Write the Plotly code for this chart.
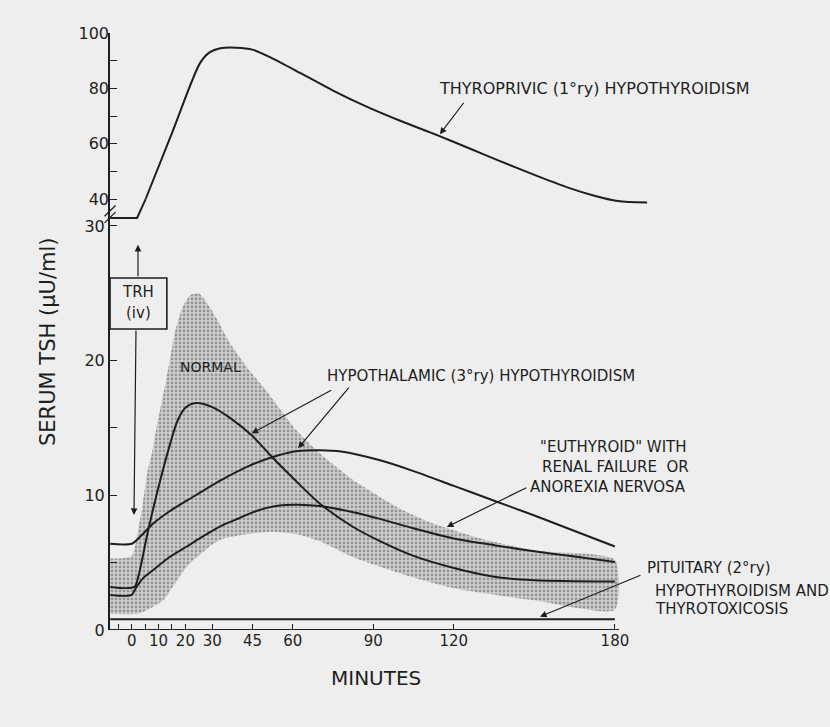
import plotly.graph_objects as go

# ---------------- data (minutes after TRH, serum TSH in µU/ml) ----------------
# Thyroprivic (primary) hypothyroidism: baseline just above 30 (lower scale),
# then the response drawn on the upper (broken) scale 40-100
thyro_base_min = [-8, 2, 5.2]
thyro_base_tsh = [30.6, 30.6, 32.0]
thyro_min = [5.2, 15, 25.5, 29, 33, 39, 45, 52, 62.7, 75, 87.5, 100, 114, 125, 137, 150, 162, 172, 181, 192]
thyro_tsh = [40, 63.8, 89.2, 93.0, 94.5, 94.7, 94.0, 91.0, 85.6, 79.2, 73.4, 68.3, 63.0, 58.6, 53.8, 48.7, 44.3, 41.3, 39.3, 38.7]

# Curve with early, high peak (inside normal range)
peak_min = [-8, 1, 2.5, 5.6, 8, 11, 14, 17, 20, 24, 30, 37, 45, 52, 60, 70, 82.5, 92.5, 105, 120, 135, 150, 180]
peak_tsh = [3.2, 3.2, 4.0, 6.9, 9.0, 11.4, 13.6, 15.5, 16.5, 16.85, 16.55, 15.7, 14.4, 12.9, 11.3, 9.4, 7.65, 6.6, 5.5, 4.6, 3.95, 3.7, 3.6]

# Hypothalamic (tertiary): high baseline, delayed, prolonged response
hypoth_min = [-8, 0, 3, 8, 14, 20.5, 33, 45, 55, 62, 70, 78, 92.5, 105, 120, 135, 150, 165, 180]
hypoth_tsh = [6.4, 6.4, 6.9, 7.9, 8.8, 9.6, 11.1, 12.3, 13.0, 13.3, 13.35, 13.25, 12.6, 11.8, 10.7, 9.6, 8.5, 7.35, 6.2]

# "Euthyroid" with renal failure or anorexia nervosa
euth_min = [-8, 0, 1.2, 4, 8, 14, 20.5, 27, 33, 40, 45.3, 50, 55, 62, 70, 82.5, 92.5, 105, 120, 135, 148, 165, 180]
euth_tsh = [2.6, 2.6, 3.0, 3.8, 4.45, 5.4, 6.2, 7.0, 7.7, 8.3, 8.75, 9.05, 9.25, 9.3, 9.2, 8.75, 8.25, 7.55, 6.8, 6.3, 5.9, 5.45, 5.05]

# Pituitary (secondary) hypothyroidism and thyrotoxicosis: flat
pit_min = [-8, 180]
pit_tsh = [0.8, 0.8]

# Normal range (shaded band)
normal_upper_min = [-8, 0, 2, 4, 6, 7.4, 9.3, 11.5, 14, 16, 19, 22, 25, 28, 32, 36, 43, 50, 56, 61, 68, 75, 82, 90, 100, 111, 130, 150, 180]
normal_upper_tsh = [5.3, 5.5, 7.0, 9.2, 11.9, 13.0, 15.1, 17.2, 19.8, 22.0, 24.0, 24.9, 25.0, 24.3, 23.0, 21.5, 19.5, 17.8, 16.2, 14.9, 13.5, 12.3, 11.2, 10.2, 9.0, 8.0, 6.8, 5.9, 5.2]
normal_lower_min = [-8, 2, 6, 11.7, 20.5, 33, 51.5, 62, 70, 82.5, 92.5, 105, 120, 150, 180]
normal_lower_tsh = [1.2, 1.2, 1.5, 2.2, 4.7, 6.7, 7.3, 7.1, 6.6, 5.4, 4.7, 3.9, 3.1, 2.2, 1.5]

x_tickvals = [-5, 0, 5, 10, 15, 20, 30, 45, 60, 90, 120, 180]
x_ticktext = ["", "0", "", "10", "", "20", "30", "45", "60", "90", "120", "180"]
y_low_tickvals = [0, 5, 10, 15, 20, 25, 30]
y_low_ticktext = ["0", "", "10", "", "20", "", "30"]
y_up_tickvals = [40, 50, 60, 70, 80, 90, 100]
y_up_ticktext = ["40", "", "60", "", "80", "", "100"]

# ---------------- figure ----------------
BG = "#eeeeee"
INK = "#1e1e1e"
FONT = "DejaVu Sans"

fig = go.Figure()

band_x = normal_upper_min + normal_lower_min[::-1]
band_y = normal_upper_tsh + normal_lower_tsh[::-1]
fig.add_trace(go.Scatter(
    x=band_x, y=band_y, fill="toself", mode="lines",
    line=dict(width=0, color="rgba(0,0,0,0)", shape="spline", smoothing=0.6),
    fillcolor="#cdcdcd",
    fillpattern=dict(shape=".", fgcolor="#5a5a5a", bgcolor="#d0d0d0", size=4, solidity=0.4),
    hoverinfo="skip", showlegend=False, name="Normal"))

line_style = dict(color=INK, width=2, shape="spline", smoothing=0.8)
fig.add_trace(go.Scatter(x=pit_min, y=pit_tsh, mode="lines", line=line_style, showlegend=False, name="Pituitary"))
fig.add_trace(go.Scatter(x=euth_min, y=euth_tsh, mode="lines", line=line_style, showlegend=False, name="Euthyroid"))
fig.add_trace(go.Scatter(x=hypoth_min, y=hypoth_tsh, mode="lines", line=line_style, showlegend=False, name="Hypothalamic"))
fig.add_trace(go.Scatter(x=peak_min, y=peak_tsh, mode="lines", line=line_style, showlegend=False, name="Peak"))
fig.add_trace(go.Scatter(x=thyro_base_min, y=thyro_base_tsh, mode="lines",
                         line=dict(color=INK, width=2), showlegend=False, name="Thyroprivic baseline"))
fig.add_trace(go.Scatter(x=thyro_min, y=thyro_tsh, mode="lines", yaxis="y2",
                         line=line_style, showlegend=False, name="Thyroprivic"))

X0, X1 = -8.08, 196.8
fig.update_layout(
    width=830, height=727,
    margin=dict(l=110, r=170, t=33, b=97),
    paper_bgcolor=BG, plot_bgcolor=BG,
    font=dict(family=FONT, color=INK, size=14),
    showlegend=False,
    xaxis=dict(range=[X0, X1], tickvals=x_tickvals, ticktext=x_ticktext,
               ticks="inside", ticklen=6, tickwidth=1.3, tickcolor=INK,
               showline=False, showgrid=False, zeroline=False,
               tickfont=dict(size=15, family=FONT, color=INK)),
    yaxis=dict(range=[0, 44.33], tickvals=y_low_tickvals, ticktext=y_low_ticktext,
               ticks="inside", ticklen=7, tickwidth=1.3, tickcolor=INK,
               showline=True, linewidth=2, linecolor=INK,
               showgrid=False, zeroline=False,
               tickfont=dict(size=16, family=FONT, color=INK)),
    yaxis2=dict(range=[-115.78, 100], overlaying="y", side="left",
                tickvals=y_up_tickvals, ticktext=y_up_ticktext,
                ticks="inside", ticklen=7, tickwidth=1.3, tickcolor=INK,
                showline=False, showgrid=False, zeroline=False,
                tickfont=dict(size=16, family=FONT, color=INK)),
)

# x axis line (ends just past 180 as in the original)
fig.add_shape(type="line", xref="x", yref="y", x0=X0, x1=181.5, y0=0, y1=0,
              line=dict(color=INK, width=2))
# axis break mark
for dy in (0.0, 0.011):
    fig.add_shape(type="line", xref="paper", yref="paper",
                  x0=-0.010, x1=0.010, y0=0.682 + dy, y1=0.700 + dy,
                  line=dict(color=INK, width=1.3))
# TRH box
fig.add_shape(type="rect", xref="x", yref="y", x0=X0, x1=13.1, y0=22.35, y1=26.14,
              line=dict(color=INK, width=1.6), fillcolor=BG)

ann = []
def label(text, x, y, yref="y", xanchor="left", size=15):
    ann.append(dict(text=text, x=x, y=y, xref="x", yref=yref, xanchor=xanchor,
                    yanchor="middle", showarrow=False,
                    font=dict(size=size, family=FONT, color=INK)))

def arrow(x, y, ax, ay, yref="y"):
    ann.append(dict(text="", x=x, y=y, xref="x", yref=yref, ax=ax, ay=ay,
                    showarrow=True, arrowhead=2, arrowsize=1.1, arrowwidth=1.2,
                    arrowcolor=INK))

# axis titles
ann.append(dict(text="MINUTES", x=0.4836, y=-0.0804, xref="paper", yref="paper",
                xanchor="center", yanchor="middle", showarrow=False,
                font=dict(size=20, family=FONT, color=INK)))
ann.append(dict(text="SERUM TSH (\u03bcU/ml)", x=-0.1127, y=0.4824, xref="paper", yref="paper",
                xanchor="center", yanchor="middle", showarrow=False, textangle=-90,
                font=dict(size=21, family=FONT, color=INK)))

label("TRH", 2.4, 25.1, xanchor="center", size=15)
label("(iv)", 2.4, 23.55, xanchor="center", size=15)
arrow(2.35, 28.6, 0, 33)
arrow(0.86, 8.54, 2, -186)

label("THYROPRIVIC (1\u00b0ry) HYPOTHYROIDISM", 113.7, 80.1, yref="y2", size=16)
arrow(114.8, 63.4, 25, -33, yref="y2")

label("NORMAL", 29.2, 19.53, xanchor="center", size=14)

label("HYPOTHALAMIC (3\u00b0ry) HYPOTHYROIDISM", 72.0, 18.86, size=15)
arrow(44.7, 14.6, 81, -44)
arrow(62.0, 13.5, 52, -62)

label("\"EUTHYROID\" WITH", 151.3, 13.59)
label("RENAL FAILURE  OR", 152.1, 12.10)
label("ANOREXIA NERVOSA", 147.6, 10.62)
arrow(117.4, 7.65, 81, -40)

label("PITUITARY (2\u00b0ry)", 191.2, 4.60)
label("HYPOTHYROIDISM AND", 194.2, 2.90)
label("THYROTOXICOSIS", 194.2, 1.56)
arrow(152.1, 0.99, 102, -42)

fig.update_layout(annotations=ann)
# remove the default 8px page margin so the figure sits at the window origin
fig.write_html("out.html", config={"displayModeBar": False},
               post_script="document.body.style.margin='0';")
